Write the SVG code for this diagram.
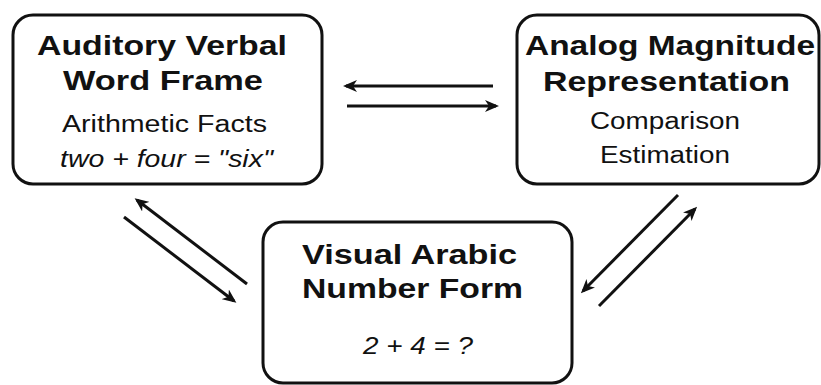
<svg xmlns="http://www.w3.org/2000/svg" width="821" height="385" viewBox="0 0 821 385">
<style>
.box{fill:#fff;stroke:#111;stroke-width:3}
.t{font-family:"Liberation Sans",Arial,sans-serif;fill:#111;text-anchor:middle}
.b{font-weight:bold;font-size:28.5px}
.r{font-size:23px}
.i{font-size:23px;font-style:italic}
.c{stroke:#111;stroke-width:3;fill:none;marker-end:url(#ah)}
</style>
<defs>
<marker id="ah" markerUnits="userSpaceOnUse" markerWidth="14" markerHeight="12" viewBox="0 0 14 12" refX="11" refY="6" orient="auto">
<path d="M0,0 L14,6 L0,12 L4,6 z" fill="#111"/>
</marker>
</defs>
<rect width="821" height="385" fill="#fff"/>
<g id="auditory">
<rect class="box" x="13" y="15" width="309" height="169" rx="20"/>
<text class="t b" x="162" y="55" textLength="250" lengthAdjust="spacingAndGlyphs">Auditory Verbal</text>
<text class="t b" x="163" y="90" textLength="200" lengthAdjust="spacingAndGlyphs">Word Frame</text>
<text class="t r" x="164.5" y="132" textLength="205" lengthAdjust="spacingAndGlyphs">Arithmetic Facts</text>
<text class="t i" x="166.5" y="167" textLength="213" lengthAdjust="spacingAndGlyphs">two + four = "six"</text>
</g>
<g id="analog">
<rect class="box" x="517" y="15" width="302" height="169" rx="20"/>
<text class="t b" x="670" y="55" textLength="290" lengthAdjust="spacingAndGlyphs">Analog Magnitude</text>
<text class="t b" x="666.5" y="91" textLength="247" lengthAdjust="spacingAndGlyphs">Representation</text>
<text class="t r" x="665" y="129" textLength="150" lengthAdjust="spacingAndGlyphs">Comparison</text>
<text class="t r" x="665" y="163" textLength="130" lengthAdjust="spacingAndGlyphs">Estimation</text>
</g>
<g id="visual">
<rect class="box" x="263" y="222" width="309" height="161" rx="20"/>
<text class="t b" x="409.5" y="264" textLength="215" lengthAdjust="spacingAndGlyphs">Visual Arabic</text>
<text class="t b" x="412.5" y="298" textLength="221" lengthAdjust="spacingAndGlyphs">Number Form</text>
<text class="t i" x="418" y="354" textLength="110" lengthAdjust="spacingAndGlyphs">2 + 4 = ?</text>
</g>
<g id="connectors">
<line class="c" x1="493" y1="86" x2="346" y2="86"/>
<line class="c" x1="347" y1="106" x2="496" y2="106"/>
<line class="c" x1="247" y1="284" x2="137" y2="200"/>
<line class="c" x1="124" y1="217" x2="234" y2="301"/>
<line class="c" x1="678" y1="195" x2="583" y2="291"/>
<line class="c" x1="599" y1="306" x2="695" y2="209"/>
</g>
</svg>
